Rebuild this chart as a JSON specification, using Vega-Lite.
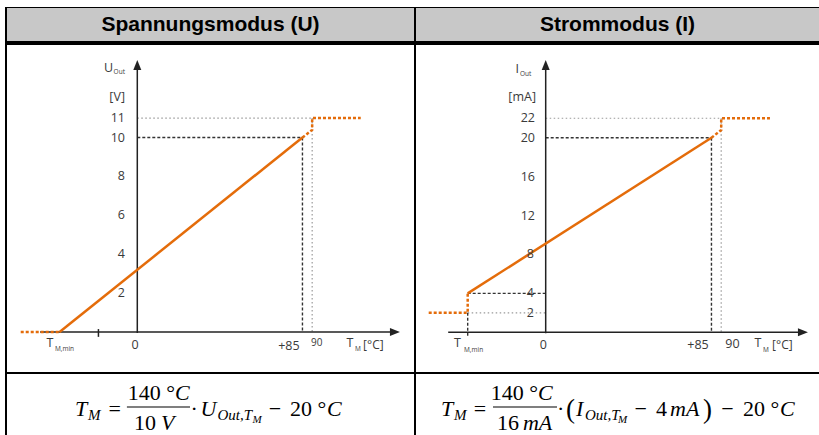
{
 "$schema": "https://vega.github.io/schema/vega-lite/v6.json",
 "padding": {"left": 5, "top": 7, "right": 0, "bottom": 0},
 "background": "white",
 "spacing": 0,
 "config": {"view": {"stroke": null}, "concat": {"spacing": 0}},
 "datasets": {
  "left": [
   {"k":"axis","g":"x","i":0,"t":-50,"v":0},
   {"k":"axis","g":"x","i":1,"t":131,"v":0},
   {"k":"axis","g":"y","i":0,"t":0,"v":-0.05},
   {"k":"axis","g":"y","i":1,"t":0,"v":13.6},
   {"k":"axis","g":"tk","i":0,"t":-20,"v":0.15},
   {"k":"axis","g":"tk","i":1,"t":-20,"v":-0.25},
   {"k":"arx","t":132.6,"v":0},
   {"k":"ary","t":0,"v":13.73},
   {"k":"curve","g":"c","i":0,"t":-40,"v":0},
   {"k":"curve","g":"c","i":1,"t":85,"v":10},
   {"k":"limit","g":"lo","i":0,"t":-60,"v":0},
   {"k":"limit","g":"lo","i":1,"t":-40,"v":0},
   {"k":"limit","g":"hi","i":0,"t":85,"v":10},
   {"k":"limit","g":"hi","i":1,"t":90,"v":10.39},
   {"k":"limit","g":"hi","i":2,"t":90,"v":11},
   {"k":"limit","g":"hi","i":3,"t":115,"v":11},
   {"k":"dash","g":"h10","i":0,"t":0,"v":10},
   {"k":"dash","g":"h10","i":1,"t":85,"v":10},
   {"k":"dash","g":"v85","i":0,"t":85,"v":10},
   {"k":"dash","g":"v85","i":1,"t":85,"v":0},
   {"k":"dot","g":"h11","i":0,"t":0,"v":11},
   {"k":"dot","g":"h11","i":1,"t":90,"v":11},
   {"k":"dot","g":"v90","i":0,"t":90,"v":11},
   {"k":"dot","g":"v90","i":1,"t":90,"v":0},
   {"k":"ylab","t":-6.33,"v":11,"s":"11"},
   {"k":"ylab","t":-6.33,"v":10,"s":"10"},
   {"k":"ylab","t":-6.33,"v":8,"s":"8"},
   {"k":"ylab","t":-6.33,"v":6,"s":"6"},
   {"k":"ylab","t":-6.33,"v":4,"s":"4"},
   {"k":"ylab","t":-6.33,"v":2,"s":"2"},
   {"k":"ylab","t":-6.33,"v":12.08,"s":"[V]"},
   {"k":"ylab","t":-12.5,"v":13.57,"s":"U"},
   {"k":"xlab","t":-44.9,"v":-0.59,"s":"T"},
   {"k":"xlab","t":-1.2,"v":-0.67,"s":"0"},
   {"k":"xlab","t":78,"v":-0.72,"s":"+85"},
   {"k":"xlab","t":109.5,"v":-0.59,"s":"T"},
   {"k":"note","t":92.3,"v":-0.55,"s":"90"},
   {"k":"sub","t":-42.4,"v":-0.9,"s":"M,min"},
   {"k":"sub","t":112.1,"v":-0.9,"s":"M"},
   {"k":"sub","t":-12.2,"v":13.39,"s":"Out"},
   {"k":"unit","t":116.2,"v":-0.67,"s":"[°C]"}
  ],
  "right": [
   {"k":"axis","g":"x","i":0,"t":-50,"v":0},
   {"k":"axis","g":"x","i":1,"t":130,"v":0},
   {"k":"axis","g":"y","i":0,"t":0,"v":-0.1},
   {"k":"axis","g":"y","i":1,"t":0,"v":27.2},
   {"k":"arx","t":131.9,"v":0},
   {"k":"ary","t":0,"v":27.47},
   {"k":"curve","g":"c","i":0,"t":-40,"v":4},
   {"k":"curve","g":"c","i":1,"t":85,"v":20},
   {"k":"limit","g":"lo","i":0,"t":-60,"v":2},
   {"k":"limit","g":"lo","i":1,"t":-40,"v":2},
   {"k":"limit","g":"lo","i":2,"t":-40,"v":4},
   {"k":"limit","g":"hi","i":0,"t":85,"v":20},
   {"k":"limit","g":"hi","i":1,"t":90,"v":20.79},
   {"k":"limit","g":"hi","i":2,"t":90,"v":22},
   {"k":"limit","g":"hi","i":3,"t":115,"v":22},
   {"k":"dash","g":"h20","i":0,"t":0,"v":20},
   {"k":"dash","g":"h20","i":1,"t":85,"v":20},
   {"k":"dash","g":"v85","i":0,"t":85,"v":20},
   {"k":"dash","g":"v85","i":1,"t":85,"v":0},
   {"k":"dash","g":"h4","i":0,"t":-40,"v":4},
   {"k":"dash","g":"h4","i":1,"t":0,"v":4},
   {"k":"dash","g":"vm","i":0,"t":-40,"v":2},
   {"k":"dash","g":"vm","i":1,"t":-40,"v":-0.45},
   {"k":"dot","g":"h22","i":0,"t":0,"v":22},
   {"k":"dot","g":"h22","i":1,"t":90,"v":22},
   {"k":"dot","g":"v90","i":0,"t":90,"v":22},
   {"k":"dot","g":"v90","i":1,"t":90,"v":0},
   {"k":"dot","g":"h2","i":0,"t":-40,"v":2},
   {"k":"dot","g":"h2","i":1,"t":0,"v":2},
   {"k":"ylab","t":-5.5,"v":22,"s":"22"},
   {"k":"ylab","t":-5.5,"v":20,"s":"20"},
   {"k":"ylab","t":-5.5,"v":16,"s":"16"},
   {"k":"ylab","t":-5.5,"v":12,"s":"12"},
   {"k":"ylab","t":-6,"v":8,"s":"8"},
   {"k":"ylab","t":-6,"v":4,"s":"4"},
   {"k":"ylab","t":-6,"v":2,"s":"2"},
   {"k":"ylab","t":-4.97,"v":24.18,"s":"[mA]"},
   {"k":"ylab","t":-13.7,"v":27.06,"s":"I"},
   {"k":"xlab","t":-45.2,"v":-1.15,"s":"T"},
   {"k":"xlab","t":-1.2,"v":-1.3,"s":"0"},
   {"k":"xlab","t":78.1,"v":-1.3,"s":"+85"},
   {"k":"xlab","t":95.8,"v":-1.2,"s":"90"},
   {"k":"xlab","t":108.9,"v":-1.15,"s":"T"},
   {"k":"sub","t":-41.9,"v":-1.77,"s":"M,min"},
   {"k":"sub","t":111.4,"v":-1.77,"s":"M"},
   {"k":"sub","t":-13.2,"v":26.5,"s":"Out"},
   {"k":"unit","t":116.1,"v":-1.3,"s":"[°C]"}
  ],
  "formula": [
   {"p":"U","k":"it","x":-6.16,"y":-0.523,"s":"T"},
   {"p":"U","k":"sub","x":-5.57,"y":-0.705,"s":"M"},
   {"p":"U","k":"op","x":-4.36,"y":-0.523,"s":"="},
   {"p":"U","k":"up_r","x":-1.61,"y":0.205,"s":"140 °"},
   {"p":"U","k":"it","x":-1.61,"y":0.205,"s":"C"},
   {"p":"U","k":"up_r","x":-2.48,"y":-1.159,"s":"10"},
   {"p":"U","k":"it","x":-2.25,"y":-1.159,"s":"V"},
   {"p":"U","k":"op","x":-0.74,"y":-0.523,"s":"·"},
   {"p":"U","k":"it","x":-0.45,"y":-0.523,"s":"U"},
   {"p":"U","k":"sub","x":0.32,"y":-0.705,"s":"Out,T"},
   {"p":"U","k":"ss","x":1.91,"y":-0.841,"s":"M"},
   {"p":"U","k":"op","x":2.93,"y":-0.523,"s":"−"},
   {"p":"U","k":"up_l","x":3.61,"y":-0.523,"s":"20 °"},
   {"p":"U","k":"it","x":5.3,"y":-0.523,"s":"C"},
   {"p":"U","k":"bar","x":-3.8,"x2":-0.93,"y":-0.114},
   {"p":"I","k":"it","x":-8.02,"y":-0.523,"s":"T"},
   {"p":"I","k":"sub","x":-7.43,"y":-0.705,"s":"M"},
   {"p":"I","k":"op","x":-6.25,"y":-0.523,"s":"="},
   {"p":"I","k":"up_r","x":-3.61,"y":0.205,"s":"140 °"},
   {"p":"I","k":"it","x":-3.61,"y":0.205,"s":"C"},
   {"p":"I","k":"up_r","x":-4.48,"y":-1.159,"s":"16"},
   {"p":"I","k":"it","x":-4.3,"y":-1.159,"s":"mA"},
   {"p":"I","k":"op","x":-2.58,"y":-0.523,"s":"·"},
   {"p":"I","k":"paren","x":-2.34,"y":-0.62,"s":"("},
   {"p":"I","k":"it","x":-1.89,"y":-0.523,"s":"I"},
   {"p":"I","k":"sub","x":-1.48,"y":-0.705,"s":"Out,T"},
   {"p":"I","k":"ss","x":0.02,"y":-0.841,"s":"M"},
   {"p":"I","k":"op","x":1.05,"y":-0.523,"s":"−"},
   {"p":"I","k":"up_l","x":1.75,"y":-0.523,"s":"4"},
   {"p":"I","k":"it","x":2.39,"y":-0.523,"s":"mA"},
   {"p":"I","k":"paren","x":3.89,"y":-0.62,"s":")"},
   {"p":"I","k":"op","x":5.0,"y":-0.523,"s":"−"},
   {"p":"I","k":"up_l","x":5.7,"y":-0.523,"s":"20 °"},
   {"p":"I","k":"it","x":7.39,"y":-0.523,"s":"C"},
   {"p":"I","k":"bar","x":-5.66,"x2":-2.75,"y":-0.114}
  ]
 },
 "vconcat": [
  {"width": 814, "height": 1, "view": {"fill": "black"}, "data": {"values": [{}]}, "mark": {"type": "point", "size": 0, "opacity": 0, "strokeWidth": 0}},
  {"spacing": 0, "hconcat": [
    {"width": 2, "height": 33, "view": {"fill": "black"}, "data": {"values": [{}]}, "mark": {"type": "point", "size": 0, "opacity": 0, "strokeWidth": 0}},
    {"width": 407, "height": 33, "view": {"fill": "#c8c8c8"}, "data": {"values": [{"s": "Spannungsmodus (U)"}]},
     "mark": {"type": "text", "font": "Liberation Sans", "fontWeight": "bold", "fontSize": 21, "color": "black", "align": "center", "baseline": "middle"},
     "encoding": {"text": {"field": "s", "type": "nominal"}}},
    {"width": 2, "height": 33, "view": {"fill": "black"}, "data": {"values": [{}]}, "mark": {"type": "point", "size": 0, "opacity": 0, "strokeWidth": 0}},
    {"width": 403, "height": 33, "view": {"fill": "#c8c8c8"}, "data": {"values": [{"s": "Strommodus (I)"}]},
     "mark": {"type": "text", "font": "Liberation Sans", "fontWeight": "bold", "fontSize": 21, "color": "black", "align": "center", "baseline": "middle"},
     "encoding": {"text": {"field": "s", "type": "nominal"}}}
  ]},
  {"width": 814, "height": 4, "view": {"fill": "black"}, "data": {"values": [{}]}, "mark": {"type": "point", "size": 0, "opacity": 0, "strokeWidth": 0}},
  {"spacing": 0, "hconcat": [
    {"width": 2, "height": 327, "view": {"fill": "black"}, "data": {"values": [{}]}, "mark": {"type": "point", "size": 0, "opacity": 0, "strokeWidth": 0}},
    {"width": 407, "height": 327,
     "data": {"name": "left"},
     "encoding": {
      "x": {"field": "t", "type": "quantitative", "scale": {"domain": [-67.06, 142.41], "nice": false, "zero": false}, "axis": null},
      "y": {"field": "v", "type": "quantitative", "scale": {"domain": [-2.057, 14.756], "nice": false, "zero": false}, "axis": null}
     },
     "layer": [
      {"transform": [{"filter": "datum.k === 'dot'"}], "mark": {"type": "line", "color": "#9a9a9a", "strokeWidth": 1.2, "strokeDash": [1.5, 2.5]}, "encoding": {"detail": {"field": "g", "type": "nominal"}, "order": {"field": "i", "type": "quantitative"}}},
      {"transform": [{"filter": "datum.k === 'dash'"}], "mark": {"type": "line", "color": "#333333", "strokeWidth": 1.4, "strokeDash": [3, 2]}, "encoding": {"detail": {"field": "g", "type": "nominal"}, "order": {"field": "i", "type": "quantitative"}}},
      {"transform": [{"filter": "datum.k === 'axis'"}], "mark": {"type": "line", "color": "#222222", "strokeWidth": 1.5}, "encoding": {"detail": {"field": "g", "type": "nominal"}, "order": {"field": "i", "type": "quantitative"}}},
      {"transform": [{"filter": "datum.k === 'arx'"}], "mark": {"type": "point", "shape": "M1,0L-1,-0.8L-1,0.8Z", "size": 100, "filled": true, "opacity": 1, "color": "#222222"}},
      {"transform": [{"filter": "datum.k === 'ary'"}], "mark": {"type": "point", "shape": "M0,-1L-0.8,1L0.8,1Z", "size": 100, "filled": true, "opacity": 1, "color": "#222222"}},
      {"transform": [{"filter": "datum.k === 'limit'"}], "mark": {"type": "line", "color": "#e46c0a", "strokeWidth": 2.5, "strokeDash": [3, 2]}, "encoding": {"detail": {"field": "g", "type": "nominal"}, "order": {"field": "i", "type": "quantitative"}}},
      {"transform": [{"filter": "datum.k === 'curve'"}], "mark": {"type": "line", "color": "#e46c0a", "strokeWidth": 2.5}, "encoding": {"detail": {"field": "g", "type": "nominal"}, "order": {"field": "i", "type": "quantitative"}}},
      {"transform": [{"filter": "datum.k === 'ylab'"}], "mark": {"type": "text", "font": "Open Sans", "fontSize": 12.5, "color": "#3a3a3a", "align": "right", "baseline": "middle"}, "encoding": {"text": {"field": "s", "type": "nominal"}}},
      {"transform": [{"filter": "datum.k === 'xlab'"}], "mark": {"type": "text", "font": "Open Sans", "fontSize": 12.5, "color": "#3a3a3a", "align": "center", "baseline": "middle"}, "encoding": {"text": {"field": "s", "type": "nominal"}}},
      {"transform": [{"filter": "datum.k === 'note'"}], "mark": {"type": "text", "font": "Open Sans", "fontSize": 10, "color": "#3a3a3a", "align": "center", "baseline": "middle"}, "encoding": {"text": {"field": "s", "type": "nominal"}}},
      {"transform": [{"filter": "datum.k === 'sub'"}], "mark": {"type": "text", "font": "Open Sans", "fontSize": 6.5, "color": "#3a3a3a", "align": "left", "baseline": "middle"}, "encoding": {"text": {"field": "s", "type": "nominal"}}},
      {"transform": [{"filter": "datum.k === 'unit'"}], "mark": {"type": "text", "font": "Open Sans", "fontSize": 12, "color": "#3a3a3a", "align": "left", "baseline": "middle"}, "encoding": {"text": {"field": "s", "type": "nominal"}}}
     ]},
    {"width": 2, "height": 327, "view": {"fill": "black"}, "data": {"values": [{}]}, "mark": {"type": "point", "size": 0, "opacity": 0, "strokeWidth": 0}},
    {"width": 403, "height": 327,
     "data": {"name": "right"},
     "encoding": {
      "x": {"field": "t", "type": "quantitative", "scale": {"domain": [-66.51, 140.15], "nice": false, "zero": false}, "axis": null},
      "y": {"field": "v", "type": "quantitative", "scale": {"domain": [-4.08, 29.53], "nice": false, "zero": false}, "axis": null}
     },
     "layer": [
      {"transform": [{"filter": "datum.k === 'dot'"}], "mark": {"type": "line", "color": "#9a9a9a", "strokeWidth": 1.2, "strokeDash": [1.5, 2.5]}, "encoding": {"detail": {"field": "g", "type": "nominal"}, "order": {"field": "i", "type": "quantitative"}}},
      {"transform": [{"filter": "datum.k === 'dash'"}], "mark": {"type": "line", "color": "#333333", "strokeWidth": 1.4, "strokeDash": [3, 2]}, "encoding": {"detail": {"field": "g", "type": "nominal"}, "order": {"field": "i", "type": "quantitative"}}},
      {"transform": [{"filter": "datum.k === 'axis'"}], "mark": {"type": "line", "color": "#222222", "strokeWidth": 1.5}, "encoding": {"detail": {"field": "g", "type": "nominal"}, "order": {"field": "i", "type": "quantitative"}}},
      {"transform": [{"filter": "datum.k === 'arx'"}], "mark": {"type": "point", "shape": "M1,0L-1,-0.8L-1,0.8Z", "size": 100, "filled": true, "opacity": 1, "color": "#222222"}},
      {"transform": [{"filter": "datum.k === 'ary'"}], "mark": {"type": "point", "shape": "M0,-1L-0.8,1L0.8,1Z", "size": 100, "filled": true, "opacity": 1, "color": "#222222"}},
      {"transform": [{"filter": "datum.k === 'limit'"}], "mark": {"type": "line", "color": "#e46c0a", "strokeWidth": 2.5, "strokeDash": [3, 2]}, "encoding": {"detail": {"field": "g", "type": "nominal"}, "order": {"field": "i", "type": "quantitative"}}},
      {"transform": [{"filter": "datum.k === 'curve'"}], "mark": {"type": "line", "color": "#e46c0a", "strokeWidth": 2.5}, "encoding": {"detail": {"field": "g", "type": "nominal"}, "order": {"field": "i", "type": "quantitative"}}},
      {"transform": [{"filter": "datum.k === 'ylab'"}], "mark": {"type": "text", "font": "Open Sans", "fontSize": 12.5, "color": "#3a3a3a", "align": "right", "baseline": "middle"}, "encoding": {"text": {"field": "s", "type": "nominal"}}},
      {"transform": [{"filter": "datum.k === 'xlab'"}], "mark": {"type": "text", "font": "Open Sans", "fontSize": 12.5, "color": "#3a3a3a", "align": "center", "baseline": "middle"}, "encoding": {"text": {"field": "s", "type": "nominal"}}},
      {"transform": [{"filter": "datum.k === 'sub'"}], "mark": {"type": "text", "font": "Open Sans", "fontSize": 6.5, "color": "#3a3a3a", "align": "left", "baseline": "middle"}, "encoding": {"text": {"field": "s", "type": "nominal"}}},
      {"transform": [{"filter": "datum.k === 'unit'"}], "mark": {"type": "text", "font": "Open Sans", "fontSize": 12, "color": "#3a3a3a", "align": "left", "baseline": "middle"}, "encoding": {"text": {"field": "s", "type": "nominal"}}}
     ]}
  ]},
  {"width": 814, "height": 2, "view": {"fill": "black"}, "data": {"values": [{}]}, "mark": {"type": "point", "size": 0, "opacity": 0, "strokeWidth": 0}},
  {"spacing": 0, "hconcat": [
    {"width": 2, "height": 61, "view": {"fill": "black"}, "data": {"values": [{}]}, "mark": {"type": "point", "size": 0, "opacity": 0, "strokeWidth": 0}},
    {"width": 407, "height": 61,
     "data": {"name": "formula"},
     "transform": [{"filter": "datum.p === 'U'"}],
     "encoding": {
      "x": {"field": "x", "type": "quantitative", "scale": {"domain": [-9.25, 9.25], "nice": false, "zero": false}, "axis": null},
      "y": {"field": "y", "type": "quantitative", "scale": {"domain": [-1.386, 1.386], "nice": false, "zero": false}, "axis": null}
     },
     "layer": [
      {"transform": [{"filter": "datum.k === 'it'"}], "mark": {"type": "text", "font": "Liberation Serif", "fontStyle": "italic", "fontSize": 22, "color": "black", "align": "left", "baseline": "alphabetic"}, "encoding": {"text": {"field": "s", "type": "nominal"}}},
      {"transform": [{"filter": "datum.k === 'sub'"}], "mark": {"type": "text", "font": "Liberation Serif", "fontStyle": "italic", "fontSize": 15, "color": "black", "align": "left", "baseline": "alphabetic"}, "encoding": {"text": {"field": "s", "type": "nominal"}}},
      {"transform": [{"filter": "datum.k === 'ss'"}], "mark": {"type": "text", "font": "Liberation Serif", "fontStyle": "italic", "fontSize": 11, "color": "black", "align": "left", "baseline": "alphabetic"}, "encoding": {"text": {"field": "s", "type": "nominal"}}},
      {"transform": [{"filter": "datum.k === 'op'"}], "mark": {"type": "text", "font": "Liberation Serif", "fontSize": 22, "color": "black", "align": "center", "baseline": "alphabetic"}, "encoding": {"text": {"field": "s", "type": "nominal"}}},
      {"transform": [{"filter": "datum.k === 'up_r'"}], "mark": {"type": "text", "font": "Liberation Serif", "fontSize": 22, "color": "black", "align": "right", "baseline": "alphabetic"}, "encoding": {"text": {"field": "s", "type": "nominal"}}},
      {"transform": [{"filter": "datum.k === 'up_l'"}], "mark": {"type": "text", "font": "Liberation Serif", "fontSize": 22, "color": "black", "align": "left", "baseline": "alphabetic"}, "encoding": {"text": {"field": "s", "type": "nominal"}}},
      {"transform": [{"filter": "datum.k === 'bar'"}], "mark": {"type": "rule", "color": "black", "strokeWidth": 1.2}, "encoding": {"x2": {"field": "x2"}}}
     ]},
    {"width": 2, "height": 61, "view": {"fill": "black"}, "data": {"values": [{}]}, "mark": {"type": "point", "size": 0, "opacity": 0, "strokeWidth": 0}},
    {"width": 403, "height": 61,
     "data": {"name": "formula"},
     "transform": [{"filter": "datum.p === 'I'"}],
     "encoding": {
      "x": {"field": "x", "type": "quantitative", "scale": {"domain": [-9.159, 9.159], "nice": false, "zero": false}, "axis": null},
      "y": {"field": "y", "type": "quantitative", "scale": {"domain": [-1.386, 1.386], "nice": false, "zero": false}, "axis": null}
     },
     "layer": [
      {"transform": [{"filter": "datum.k === 'it'"}], "mark": {"type": "text", "font": "Liberation Serif", "fontStyle": "italic", "fontSize": 22, "color": "black", "align": "left", "baseline": "alphabetic"}, "encoding": {"text": {"field": "s", "type": "nominal"}}},
      {"transform": [{"filter": "datum.k === 'sub'"}], "mark": {"type": "text", "font": "Liberation Serif", "fontStyle": "italic", "fontSize": 15, "color": "black", "align": "left", "baseline": "alphabetic"}, "encoding": {"text": {"field": "s", "type": "nominal"}}},
      {"transform": [{"filter": "datum.k === 'ss'"}], "mark": {"type": "text", "font": "Liberation Serif", "fontStyle": "italic", "fontSize": 11, "color": "black", "align": "left", "baseline": "alphabetic"}, "encoding": {"text": {"field": "s", "type": "nominal"}}},
      {"transform": [{"filter": "datum.k === 'op'"}], "mark": {"type": "text", "font": "Liberation Serif", "fontSize": 22, "color": "black", "align": "center", "baseline": "alphabetic"}, "encoding": {"text": {"field": "s", "type": "nominal"}}},
      {"transform": [{"filter": "datum.k === 'up_r'"}], "mark": {"type": "text", "font": "Liberation Serif", "fontSize": 22, "color": "black", "align": "right", "baseline": "alphabetic"}, "encoding": {"text": {"field": "s", "type": "nominal"}}},
      {"transform": [{"filter": "datum.k === 'up_l'"}], "mark": {"type": "text", "font": "Liberation Serif", "fontSize": 22, "color": "black", "align": "left", "baseline": "alphabetic"}, "encoding": {"text": {"field": "s", "type": "nominal"}}},
      {"transform": [{"filter": "datum.k === 'paren'"}], "mark": {"type": "text", "font": "Liberation Serif", "fontSize": 27, "color": "black", "align": "left", "baseline": "alphabetic"}, "encoding": {"text": {"field": "s", "type": "nominal"}}},
      {"transform": [{"filter": "datum.k === 'bar'"}], "mark": {"type": "rule", "color": "black", "strokeWidth": 1.2}, "encoding": {"x2": {"field": "x2"}}}
     ]}
  ]}
 ]
}
